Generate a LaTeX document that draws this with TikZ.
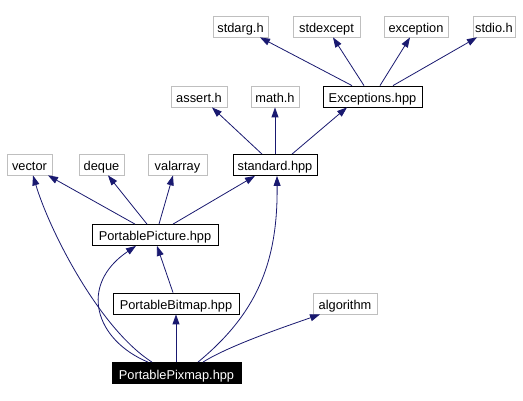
\documentclass[tikz,border=0pt]{standalone}
\usepackage{fontspec}
\setmainfont{Liberation Sans}
\usetikzlibrary{arrows.meta}
\definecolor{edgeblue}{HTML}{191970}
\definecolor{boxgray}{HTML}{BFBFBF}
\tikzset{
  box/.style={draw=black, line width=0.8pt, inner sep=0pt, minimum height=21pt,
    text height=12pt, text depth=0pt,
    font=\fontsize{12.8}{14}\selectfont, text=black},
  sysbox/.style={box, draw=boxgray},
  mainbox/.style={box, fill=black, text=white},
  edge/.style={draw=edgeblue, line width=0.8pt, -{Triangle[length=10pt,width=7pt]}}
}
\begin{document}
\begin{tikzpicture}[x=1pt,y=-1pt]
\path[use as bounding box, fill=white] (0,0) rectangle (523,401);
% top row
\node[sysbox, minimum width=55pt] (sa) at (240.5,26.5) {stdarg.h};
\node[sysbox, minimum width=67pt] (se) at (326.5,26.5) {stdexcept};
\node[sysbox, minimum width=64pt] (exn) at (416,26.5) {exception};
\node[sysbox, minimum width=42pt] (sio) at (494,26.5) {stdio.h};
% second row
\node[sysbox, minimum width=56pt] (as) at (199,96.5) {assert.h};
\node[sysbox, minimum width=48pt] (mh) at (275,96.5) {math.h};
\node[box, minimum width=99pt] (ex) at (372.5,96.5) {Exceptions.hpp};
% third row
\node[sysbox, minimum width=45pt] (vec) at (29.5,164.5) {vector};
\node[sysbox, minimum width=45pt] (dq) at (101.5,164.5) {deque};
\node[sysbox, minimum width=59pt] (va) at (177.5,164.5) {valarray};
\node[box, minimum width=84pt] (st) at (275,165) {standard.hpp};
% fourth
\node[box, minimum width=126pt] (pp) at (155,235) {PortablePicture.hpp};
% fifth
\node[box, minimum width=126pt] (pb) at (176,303.5) {PortableBitmap.hpp};
\node[sysbox, minimum width=64pt] (alg) at (345,303.5) {algorithm};
% bottom
\node[mainbox, minimum width=129pt] (pm) at (176.5,373) {PortablePixmap.hpp};

% Exceptions edges
\draw[edge] ([xshift=-20.5pt]ex.north) -- ([xshift=19.5pt]sa.south);
\draw[edge] ([xshift=-8.5pt]ex.north) -- ([xshift=6.5pt]se.south);
\draw[edge] ([xshift=7.5pt]ex.north) -- ([xshift=-6pt]exn.south);
\draw[edge] ([xshift=20.5pt]ex.north) -- ([xshift=-17pt]sio.south);
% standard edges
\draw[edge] ([xshift=-13pt]st.north) -- ([xshift=13pt]as.south);
\draw[edge] (st.north) -- (mh.south);
\draw[edge] ([xshift=17pt]st.north) -- ([xshift=-25.5pt]ex.south);
% PortablePicture edges
\draw[edge] ([xshift=-20pt]pp.north) -- ([xshift=18.5pt]vec.south);
\draw[edge] ([xshift=-8pt]pp.north) -- ([xshift=6.5pt]dq.south);
\draw[edge] ([xshift=4pt]pp.north) -- ([xshift=-4.5pt]va.south);
\draw[edge] ([xshift=18pt]pp.north) -- ([xshift=-20pt]st.south);
% PortableBitmap edge
\draw[edge] ([xshift=-3pt]pb.north) -- ([xshift=2pt]pp.south);
% PortablePixmap edges
\draw[edge] ([xshift=-24.5pt]pm.north) .. controls (100,329) and (50,232) .. ([xshift=3.5pt]vec.south);
\draw[edge] ([xshift=-28.5pt]pm.north) .. controls (95,340) and (78,285) .. ([xshift=-19pt]pp.south);
\draw[edge] ([xshift=-0.5pt]pm.north) -- (pb.south);
\draw[edge] ([xshift=21.5pt]pm.north) .. controls (255,315) and (278,265) .. ([xshift=2pt]st.south);
\draw[edge] ([xshift=26.5pt]pm.north) .. controls (230,345) and (290,325) .. ([xshift=-25pt]alg.south);
\end{tikzpicture}
\end{document}
